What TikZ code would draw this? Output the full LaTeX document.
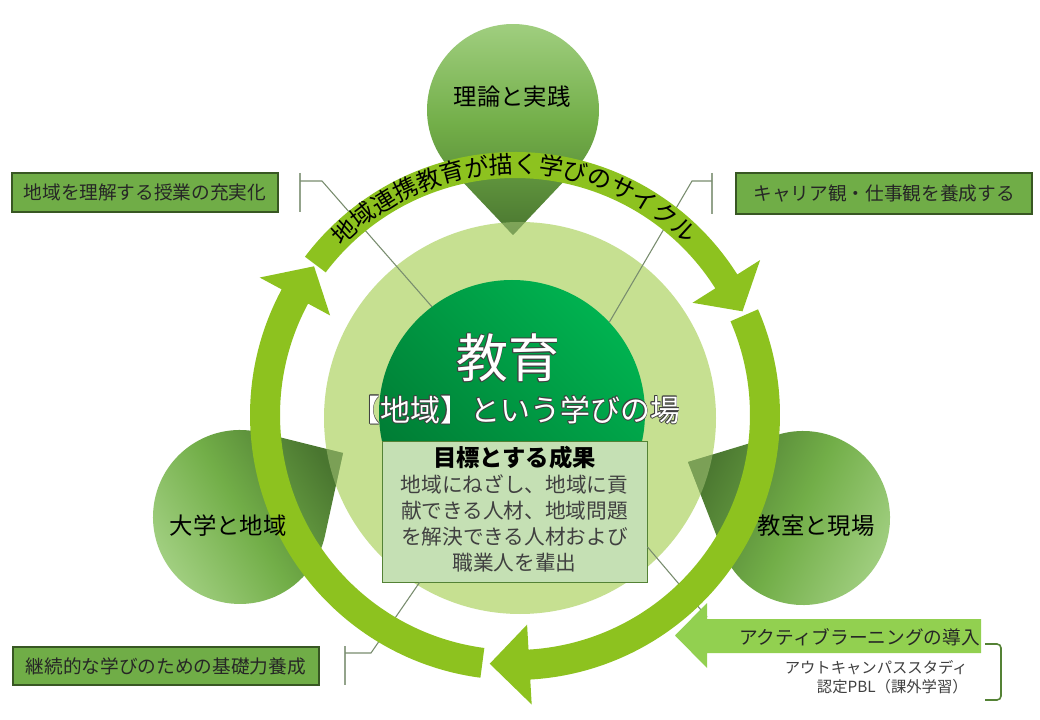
\documentclass[tikz,border=0pt]{standalone}
\usepackage{fontspec}
\newfontfamily\jp{Noto Sans CJK JP}
\usetikzlibrary{calc}
\definecolor{band}{RGB}{141,194,31}
\definecolor{lightc}{RGB}{198,224,145}
\definecolor{darkA}{RGB}{0,178,80}
\definecolor{darkB}{RGB}{0,120,50}
\definecolor{balL}{RGB}{164,209,132}
\definecolor{balM}{RGB}{114,174,72}
\definecolor{balD}{RGB}{74,118,48}
\definecolor{boxfill}{RGB}{112,173,71}
\definecolor{boxline}{RGB}{56,87,35}
\definecolor{goalfill}{RGB}{197,224,180}
\definecolor{goalline}{RGB}{84,130,53}
\definecolor{leadc}{RGB}{120,140,110}
\definecolor{actfill}{RGB}{146,208,80}
\definecolor{olc}{RGB}{64,64,64}
\definecolor{txt}{RGB}{38,38,38}
\definecolor{txtg}{RGB}{64,64,64}

\newcommand\olt[1]{{\setbox0=\hbox{#1}%
\def\oo##1##2{\rlap{\kern##1\raise##2\hbox{\textcolor{olc}{\copy0}}}}%
\oo{0.6pt}{0pt}\oo{-0.6pt}{0pt}\oo{0pt}{0.6pt}\oo{0pt}{-0.6pt}%
\oo{0.45pt}{0.45pt}\oo{-0.45pt}{0.45pt}\oo{0.45pt}{-0.45pt}\oo{-0.45pt}{-0.45pt}%
\textcolor{white}{\copy0}}}

\newcommand\cycarrow[5]{%
\pgfmathsetmacro\rOut{250+#4}\pgfmathsetmacro\rIn{250-#4}%
\pgfmathsetmacro\hOut{250+#5}\pgfmathsetmacro\hIn{250-#5}%
\fill[band] (#1:\rOut) arc[start angle=#1, end angle=#2, radius=\rOut] -- (#2:\hOut) -- (#3:250) -- (#2:\hIn) -- (#2:\rIn) arc[start angle=#2, end angle=#1, radius=\rIn] -- cycle;}

\newcommand\balloonT[1]{\path[#1] (513,-235) -- ($(513,-110)+(-43.5:86)$) arc[start angle=-43.5, end angle=223.5, radius=86] -- cycle;}
\newcommand\balloonL[1]{\path[#1] (343,-453) -- ($(240,-517)+(76.1:87)$) arc[start angle=76.1, end angle=347.7, radius=87] -- cycle;}
\newcommand\balloonR[1]{\path[#1] (688,-462) -- ($(803,-518)+(201.1:87)$) arc[start angle=201.1, end angle=466.9, radius=87] -- cycle;}

\begin{document}
\begin{tikzpicture}[x=0.75pt,y=0.75pt,
  lbl/.style={font=\jp\fontsize{17.5}{20}\selectfont, text=black, inner sep=0pt},
  cbox/.style={draw=boxline, fill=boxfill, line width=0.8pt, inner sep=0pt, font=\jp\fontsize{14}{16}\selectfont, text=txt},
  leader/.style={draw=leadc, line width=0.8pt},
  tickline/.style={draw=leadc!80, line width=1.1pt},
  arcch/.style={font=\jp\fontsize{18}{20}\selectfont, inner sep=0pt, text=black},
  balshade/.style={top color=balL, bottom color=balD, middle color=balM}]
\fill[white] (0,0) rectangle (1040,-720);
\useasboundingbox (0,0) rectangle (1040,-720);

% light circle
\node[circle, fill=lightc, minimum size=294pt, inner sep=0pt, outer sep=0pt] (light) at (520,-418) {};

% balloons
\balloonT{balshade}
\balloonL{balshade, shading angle=122}
\balloonR{balshade, shading angle=243.6}
\begin{scope}
  \clip (520,-418) circle[radius=196];
  \balloonT{fill=lightc, fill opacity=0.4}
  \balloonL{fill=lightc, fill opacity=0.4}
  \balloonR{fill=lightc, fill opacity=0.4}
\end{scope}

% dark circle
\node[circle, top color=darkA, bottom color=darkB, shading angle=-45, minimum size=199.5pt, inner sep=0pt, outer sep=0pt] (dark) at (512,-413) {};

% goal box
\node[draw=goalline, fill=goalfill, line width=0.75pt, minimum width=198.75pt, minimum height=105pt, inner sep=0pt] (goal) at (514.5,-512) {};
\node[font=\jp\bfseries\fontsize{17.5}{20}\selectfont, inner sep=0pt, text=black] (goalt) at (514.5,-458) {目標とする成果};
\node[font=\jp\fontsize{15.5}{19.3}\selectfont, align=center, text=txtg, inner sep=0pt] (goalb) at (514.5,-523.5) {地域にねざし、地域に貢\\献できる人材、地域問題\\を解決できる人材および\\職業人を輩出};

% leader lines
\coordinate (l1t) at (300,-173); \coordinate (l1b) at (300,-212);
\coordinate (l1s) at (300,-181); \coordinate (l1k) at (322,-181);
\draw[tickline] (l1t) -- (l1b);
\draw[leader] (l1s) -- (l1k) -- (dark.127);
\coordinate (l2t) at (712,-173); \coordinate (l2b) at (712,-214);
\coordinate (l2s) at (712,-181); \coordinate (l2k) at (692,-181);
\draw[tickline] (l2t) -- (l2b);
\draw[leader] (l2s) -- (l2k) -- (dark.43.5);
\coordinate (l3t) at (345,-646); \coordinate (l3b) at (345,-685);
\coordinate (l3s) at (345,-653); \coordinate (l3k) at (371,-653);
\draw[tickline] (l3t) -- (l3b);
\draw[leader] (l3s) -- (l3k) -- ($(goal.south west)+(38,0)$);
\coordinate (l4e) at (707,-617);
\draw[leader] ($(goal.east)+(0,-35)$) -- (l4e);

% cycle arrows
\begin{scope}[shift={(515,-415)}]
  \cycarrow{262.5}{151.7}{143.5}{15}{40}
  \cycarrow{143}{32.3}{24.5}{13}{40}
  \cycarrow{23.5}{-86.7}{-95.8}{15}{40}
  \foreach \ch [count=\i from 0] in {地,域,連,携,教,育,が,描,く,学,び,の,サ,イ,ク,ル} {
    \pgfmathsetmacro\ang{133-5.7*\i}
    \node[arcch, rotate=\ang-90] (c\i) at (\ang:251) {\ch};
  }
\end{scope}

% balloon labels
\node[lbl] (t1) at (512,-97) {理論と実践};
\node[lbl] (t2) at (228,-526) {大学と地域};
\node[lbl] (t3) at (816,-526) {教室と現場};

% center texts
\node[font=\jp\fontsize{39}{44}\selectfont, inner sep=0pt] (edu) at (508,-358) {\olt{教育}};
\node[font=\jp\fontsize{22.5}{26}\selectfont, inner sep=0pt] (place) at (515,-410) {\olt{【地域】という学びの場}};

% corner boxes
\node[cbox, minimum width=199.5pt, minimum height=29.25pt] (b1) at (145,-192.5) {地域を理解する授業の充実化};
\node[cbox, minimum width=222pt, minimum height=30.75pt] (b2) at (884,-193.5) {キャリア観・仕事観を養成する};
\node[cbox, minimum width=229.5pt, minimum height=28.5pt] (b3) at (166,-666) {継続的な学びのための基礎力養成};

% active learning arrow
\fill[actfill] (981,-619) -- (707,-619) -- (707,-603) -- (675,-635.5) -- (707,-668) -- (707,-653) -- (981,-653) -- cycle;
\node[anchor=east, font=\jp\fontsize{14}{16}\selectfont, text=txt, inner sep=0pt] (act) at (980,-637) {アクティブラーニングの導入};
\node[anchor=east, align=right, font=\jp\fontsize{11.5}{14.3}\selectfont, text=txtg, inner sep=0pt] (out) at (968,-677.5) {アウトキャンパススタディ\\認定PBL（課外学習）};
\draw[goalline, line width=1.2pt, rounded corners=3pt] (985,-644) -- (1001,-644) -- (1001,-700) -- (985,-700);
\end{tikzpicture}
\end{document}
